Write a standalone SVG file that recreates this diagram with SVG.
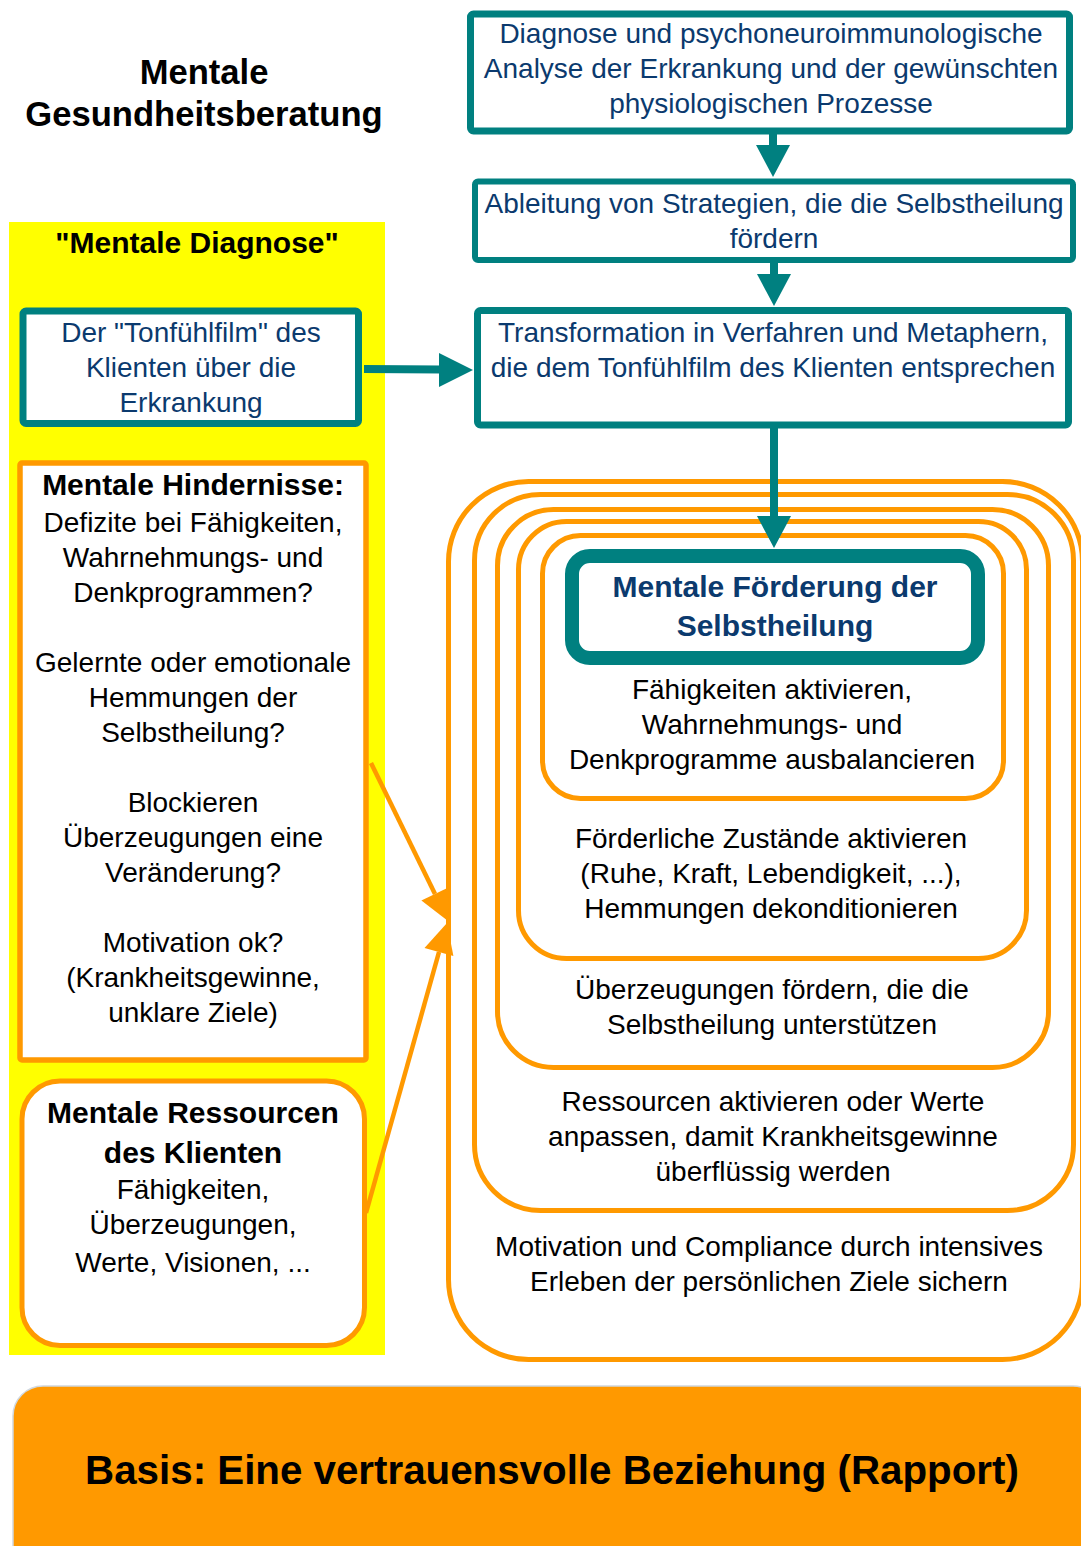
<svg xmlns="http://www.w3.org/2000/svg" width="1081" height="1546" viewBox="0 0 1081 1546">
<style>
text{font-family:"Liberation Sans",Arial,sans-serif;text-anchor:middle}
.t{font-size:28px;fill:#0b3a6e}
.r{font-size:28px;fill:#000}
.b{font-size:30px;font-weight:bold;fill:#000}
.bb{font-size:30px;font-weight:bold;fill:#0b3a6e}
.teal{fill:#fff;stroke:#008080;stroke-width:7}
.or{fill:#fff;stroke:#ff9900;stroke-width:5}
.tl{stroke:#008080;stroke-width:8;fill:none}
.tf{fill:#008080}
.ol{stroke:#ff9900;stroke-width:4.5;fill:none}
.of{fill:#ff9900}
</style>
<rect width="1081" height="1546" fill="#fff"/>
<g id="title">
<text class="b" style="font-size:34.6px" x="204" y="84">Mentale</text>
<text class="b" style="font-size:34.6px" x="204" y="126">Gesundheitsberatung</text>
</g>
<g id="mentale-diagnose">
<rect x="9" y="222" width="376" height="1133" fill="#ffff00"/>
<text class="b" x="197" y="253">"Mentale Diagnose"</text>
</g>
<g id="box-diagnose">
<rect class="teal" x="470.5" y="14" width="599" height="117" rx="3"/>
<text class="t" x="771" y="43">Diagnose und psychoneuroimmunologische</text>
<text class="t" x="771" y="78">Analyse der Erkrankung und der gewünschten</text>
<text class="t" x="771" y="113">physiologischen Prozesse</text>
</g>
<g id="box-ableitung">
<rect class="teal" x="475" y="181.5" width="598" height="78.5" rx="3" style="stroke-width:6"/>
<text class="t" x="774" y="213">Ableitung von Strategien, die die Selbstheilung</text>
<text class="t" x="774" y="248">fördern</text>
</g>
<g id="box-transformation">
<rect class="teal" x="477.5" y="310.5" width="591" height="114.5" rx="3"/>
<text class="t" x="773" y="342">Transformation in Verfahren und Metaphern,</text>
<text class="t" x="773" y="377">die dem Tonfühlfilm des Klienten entsprechen</text>
</g>
<g id="box-tonfuehlfilm">
<rect class="teal" x="23" y="311" width="335.5" height="112.5" rx="3"/>
<text class="t" x="191" y="342">Der "Tonfühlfilm" des</text>
<text class="t" x="191" y="377">Klienten über die</text>
<text class="t" x="191" y="412">Erkrankung</text>
</g>
<g id="box-hindernisse">
<rect class="or" x="20" y="463" width="346" height="597" rx="2" style="stroke-width:5.5"/>
<text class="b" x="193" y="495">Mentale Hindernisse:</text>
<text class="r" x="193" y="532">Defizite bei Fähigkeiten,</text>
<text class="r" x="193" y="567">Wahrnehmungs- und</text>
<text class="r" x="193" y="602">Denkprogrammen?</text>
<text class="r" x="193" y="672">Gelernte oder emotionale</text>
<text class="r" x="193" y="707">Hemmungen der</text>
<text class="r" x="193" y="742">Selbstheilung?</text>
<text class="r" x="193" y="812">Blockieren</text>
<text class="r" x="193" y="847">Überzeugungen eine</text>
<text class="r" x="193" y="882">Veränderung?</text>
<text class="r" x="193" y="952">Motivation ok?</text>
<text class="r" x="193" y="987">(Krankheitsgewinne,</text>
<text class="r" x="193" y="1022">unklare Ziele)</text>
</g>
<g id="box-ressourcen">
<rect class="or" x="22" y="1081" width="342.5" height="264.5" rx="38"/>
<text class="b" x="193" y="1123">Mentale Ressourcen</text>
<text class="b" x="193" y="1163">des Klienten</text>
<text class="r" x="193" y="1199">Fähigkeiten,</text>
<text class="r" x="193" y="1234">Überzeugungen,</text>
<text class="r" x="193" y="1272">Werte, Visionen, ...</text>
</g>
<g id="ring-motivation">
<rect class="or" x="448.5" y="481.5" width="634" height="878" rx="80"/>
<text class="r" x="769" y="1256">Motivation und Compliance durch intensives</text>
<text class="r" x="769" y="1291">Erleben der persönlichen Ziele sichern</text>
</g>
<g id="ring-ressourcen">
<rect class="or" x="474.5" y="494.5" width="599" height="716" rx="66"/>
<text class="r" x="773" y="1111">Ressourcen aktivieren oder Werte</text>
<text class="r" x="773" y="1146">anpassen, damit Krankheitsgewinne</text>
<text class="r" x="773" y="1181">überflüssig werden</text>
</g>
<g id="ring-ueberzeugungen">
<rect class="or" x="497.5" y="509.5" width="551" height="558" rx="56"/>
<text class="r" x="772" y="999">Überzeugungen fördern, die die</text>
<text class="r" x="772" y="1034">Selbstheilung unterstützen</text>
</g>
<g id="ring-zustaende">
<rect class="or" x="518.5" y="521.5" width="508" height="437" rx="48"/>
<text class="r" x="771" y="848">Förderliche Zustände aktivieren</text>
<text class="r" x="771" y="883">(Ruhe, Kraft, Lebendigkeit, ...),</text>
<text class="r" x="771" y="918">Hemmungen dekonditionieren</text>
</g>
<g id="ring-faehigkeiten">
<rect class="or" x="542.5" y="535.5" width="461" height="263" rx="38"/>
<text class="r" x="772" y="699">Fähigkeiten aktivieren,</text>
<text class="r" x="772" y="734">Wahrnehmungs- und</text>
<text class="r" x="772" y="769">Denkprogramme ausbalancieren</text>
</g>
<g id="box-foerderung">
<rect x="572" y="556" width="406" height="102" rx="18" fill="#fff" stroke="#008080" stroke-width="14"/>
<text class="bb" x="775" y="597">Mentale Förderung der</text>
<text class="bb" x="775" y="636">Selbstheilung</text>
</g>
<g id="box-basis">
<rect x="13" y="1386" width="1090" height="200" rx="30" fill="#ff9900" stroke="#d0d8e0" stroke-width="1.5"/>
<text x="552" y="1484" style="font-size:40.3px;font-weight:bold;fill:#000">Basis: Eine vertrauensvolle Beziehung (Rapport)</text>
</g>
<g id="connectors">
<line class="tl" x1="773" y1="134" x2="773" y2="146"/>
<polygon class="tf" points="756,145 790,145 773,177"/>
<line class="tl" x1="774" y1="263" x2="774" y2="275"/>
<polygon class="tf" points="757,274 791,274 774,306"/>
<line class="tl" x1="774" y1="428" x2="774" y2="517"/>
<polygon class="tf" points="757,516 791,516 774,548"/>
<line class="tl" x1="364" y1="369" x2="441" y2="369.5"/>
<polygon class="tf" points="439,353 439,387 473,370"/>
<line class="ol" x1="371" y1="763" x2="435" y2="894"/>
<polygon class="of" points="421.4,900.6 448.4,887.4 448,921"/>
<line class="ol" x1="366" y1="1213" x2="439" y2="952"/>
<polygon class="of" points="453.4,955.9 424.5,947.9 447,923"/>
</g>
</svg>
